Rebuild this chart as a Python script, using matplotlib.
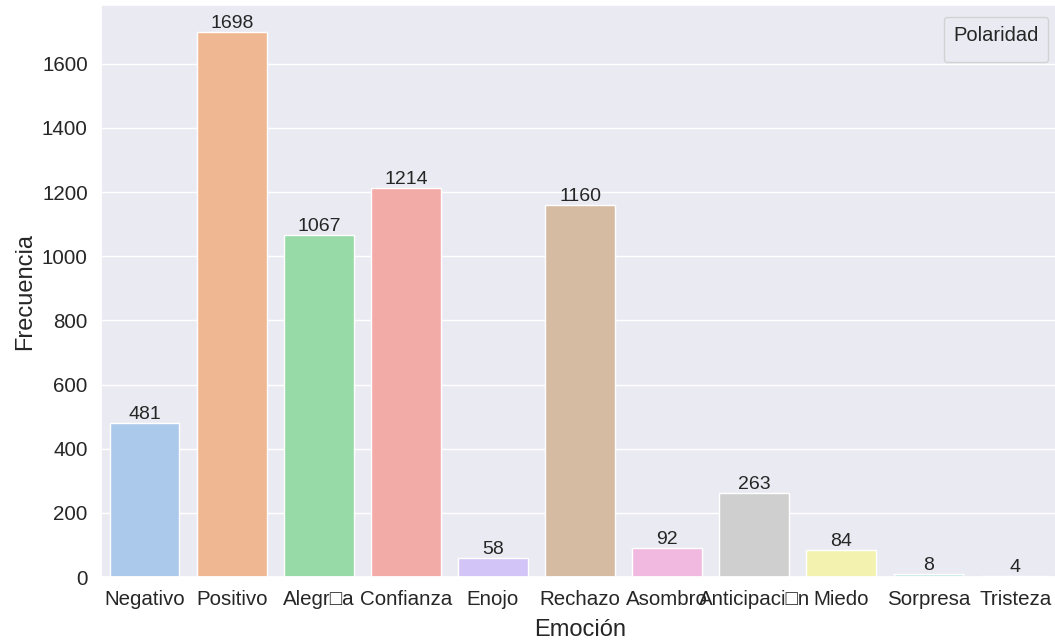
import matplotlib
matplotlib.use("Agg")
import matplotlib.pyplot as plt
import seaborn as sns
import pandas as pd

# datos
emociones = ["Negativo", "Positivo", "Alegr\u25a1a", "Confianza", "Enojo", "Rechazo",
             "Asombro", "Anticipaci\u25a1n", "Miedo", "Sorpresa", "Tristeza"]
frecuencias = [481, 1698, 1067, 1214, 58, 1160, 92, 263, 84, 8, 4]

sns.set_theme(style="darkgrid", palette="pastel")
plt.rcParams["font.family"] = ["Liberation Sans", "DejaVu Sans"]

df = pd.DataFrame({"Emoción": emociones, "Frecuencia": frecuencias})

fig = plt.figure(figsize=(10.55, 6.4), dpi=100)
# el eje sobresale un poco por la derecha, como en la imagen recortada
ax = fig.add_axes([0.0958, 0.0984, 0.908, 0.8936])

sns.barplot(data=df, x="Emoción", y="Frecuencia", hue="Emoción",
            palette="pastel", legend=False, ax=ax)

for cont in ax.containers:
    ax.bar_label(cont, fontsize=14, padding=0, color="#262626")

ax.set_xlabel("Emoción", fontsize=17, labelpad=7)
ax.set_ylabel("Frecuencia", fontsize=17)
ax.tick_params(axis="both", labelsize=14.8)
ax.legend(handles=[], title="Polaridad", loc="upper right", title_fontsize=14.5,
          bbox_to_anchor=(0.9885, 0.979), borderaxespad=0, borderpad=0.6)

fig.savefig("out.png", dpi=100)
